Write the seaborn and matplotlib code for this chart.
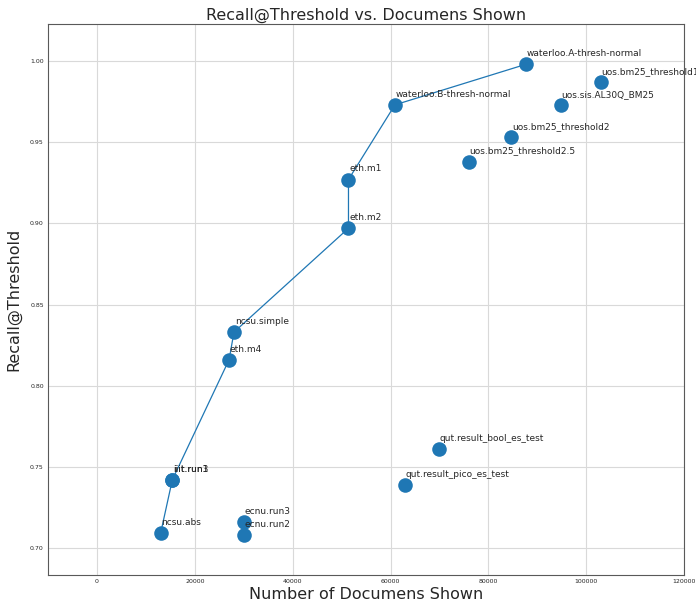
import pandas as pd
import seaborn as sns
import matplotlib.pyplot as plt

# runs: name, documents shown, recall@threshold
runs = ['waterloo.A-thresh-normal', 'uos.bm25_threshold1', 'uos.sis.AL30Q_BM25',
        'waterloo.B-thresh-normal', 'uos.bm25_threshold2', 'uos.bm25_threshold2.5',
        'eth.m1', 'eth.m2', 'ncsu.simple', 'eth.m4', 'iiit.run1', 'iiit.run3',
        'ncsu.abs', 'ecnu.run3', 'ecnu.run2', 'qut.result_bool_es_test',
        'qut.result_pico_es_test']
docs = [87700, 103000, 94800, 60900, 84700, 76000, 51400, 51400, 28000, 27000,
        15400, 15400, 13000, 30100, 30100, 69900, 63000]
recall = [0.998, 0.987, 0.973, 0.973, 0.953, 0.938, 0.927, 0.897, 0.833, 0.816,
          0.742, 0.742, 0.709, 0.716, 0.708, 0.761, 0.739]

# runs on the frontier, in drawing order
frontier = ['ncsu.abs', 'iiit.run1', 'eth.m4', 'ncsu.simple', 'eth.m2', 'eth.m1',
            'waterloo.B-thresh-normal', 'waterloo.A-thresh-normal']

df = pd.DataFrame({'run': runs, 'docs': docs, 'recall': recall})
df_front = df.set_index('run').loc[frontier].reset_index()

sns.set_style('whitegrid', {'axes.edgecolor': '0.35', 'grid.color': '0.85'})
plt.rcParams['font.family'] = ['DejaVu Sans']

fig, ax = plt.subplots(figsize=(6.96, 6.07), dpi=100)
fig.subplots_adjust(left=0.069, right=0.983, top=0.9605, bottom=0.0527)

sns.lineplot(data=df_front, x='docs', y='recall', sort=False, estimator=None,
             color='#1f77b4', linewidth=0.9, ax=ax, zorder=2)
sns.scatterplot(data=df, x='docs', y='recall', color='#1f77b4', s=110,
                linewidth=0, ax=ax, zorder=3)

for name, x, y in zip(runs, docs, recall):
    ax.text(x + 150, y + 0.005, name, fontsize=6.5, color='#262626')

ax.set_xlim(-10000, 120000)
ax.set_ylim(0.6834, 1.0228)
ax.set_xticks([0, 20000, 40000, 60000, 80000, 100000, 120000])
ax.set_yticks([0.70, 0.75, 0.80, 0.85, 0.90, 0.95, 1.00])
ax.set_yticklabels([f'{v:.2f}' for v in [0.70, 0.75, 0.80, 0.85, 0.90, 0.95, 1.00]])
ax.tick_params(labelsize=4.5, length=0, pad=3)

ax.set_title('Recall@Threshold vs. Documens Shown', fontsize=11.5, pad=3)
ax.set_xlabel('Number of Documens Shown', fontsize=11.5, labelpad=2)
ax.set_ylabel('Recall@Threshold', fontsize=11.5, labelpad=6)

plt.savefig('out.png', dpi=100)
